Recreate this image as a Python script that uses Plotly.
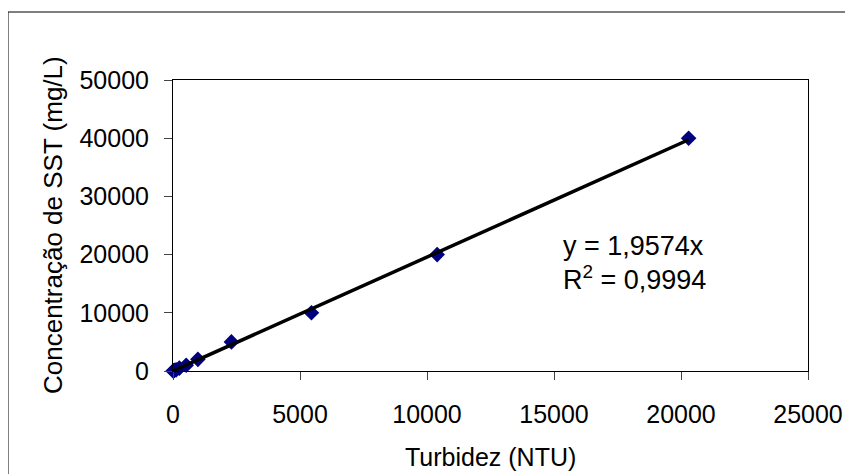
import plotly.graph_objects as go

# Data
turbidez_ntu = [5, 25, 50, 120, 250, 520, 980, 2300, 5450, 10400, 20300]
sst_mg_l = [10, 50, 100, 200, 500, 1000, 2000, 5000, 10000, 20000, 40000]
slope = 1.9574
r2_text = "0,9994"
x_title = "Turbidez (NTU)"
y_title = "Concentração de SST (mg/L)"
x_ticks = [0, 5000, 10000, 15000, 20000, 25000]
y_ticks = [0, 10000, 20000, 30000, 40000, 50000]

OFF = 8  # page body margin
W, H = 853 - OFF, 474 - OFF
L, R, T, B = 173 - OFF, 808 - OFF, 80 - OFF, 371 - OFF  # plot area box

def px(xp):
    return (xp - OFF - L) / (R - L)

def py(yp):
    return (B - (yp - OFF)) / (B - T)

fig = go.Figure()
fig.add_trace(go.Scatter(
    x=turbidez_ntu, y=sst_mg_l, mode="markers",
    marker=dict(symbol="diamond", size=12, color="#000080",
                line=dict(width=0)),
    showlegend=False, cliponaxis=False,
))
xmax = max(turbidez_ntu)
fig.add_trace(go.Scatter(
    x=[0, xmax], y=[0, slope * xmax], mode="lines",
    line=dict(color="black", width=3.5),
    showlegend=False, cliponaxis=False,
))

font = "Liberation Sans, Arial, sans-serif"
fig.update_layout(
    width=W, height=H,
    margin=dict(l=L, r=W - R, t=T, b=H - B, pad=0, autoexpand=False),
    paper_bgcolor="white", plot_bgcolor="white",
    font=dict(family=font, size=25, color="black"),
    xaxis=dict(range=[0, 25000], tickvals=x_ticks,
               ticktext=[str(v) for v in x_ticks], automargin=False,
               showgrid=False, zeroline=False, showline=True, mirror=True,
               linecolor="black", linewidth=1, ticks="outside", ticklen=8,
               tickcolor="#444", ticklabelstandoff=13),
    yaxis=dict(range=[0, 50000], tickvals=y_ticks,
               ticktext=[str(v) for v in y_ticks], automargin=False,
               showgrid=False, zeroline=False, showline=True, mirror=True,
               linecolor="black", linewidth=1, ticks="outside", ticklen=8,
               tickcolor="#444", ticklabelstandoff=10),
    shapes=[dict(type="rect", xref="paper", yref="paper",
                 x0=px(8), x1=px(900), y0=py(520), y1=py(12),
                 line=dict(color="black", width=1), layer="below")],
    annotations=[
        dict(x=0.5, y=py(457), xref="paper", yref="paper",
             xanchor="center", yanchor="middle", showarrow=False,
             text=x_title, font=dict(size=25)),
        dict(x=px(53), y=py(225), xref="paper", yref="paper",
             xanchor="center", yanchor="middle", showarrow=False,
             textangle=-90, text=y_title, font=dict(size=26)),
        dict(x=px(561), y=py(246), xref="paper", yref="paper",
             xanchor="left", yanchor="middle", showarrow=False,
             text="y = 1,9574x", font=dict(size=27)),
        dict(x=px(561), y=py(278), xref="paper", yref="paper",
             xanchor="left", yanchor="middle", showarrow=False,
             text="R<sup>2</sup> = " + r2_text, font=dict(size=27))],
)
fig.write_html("out.html")
